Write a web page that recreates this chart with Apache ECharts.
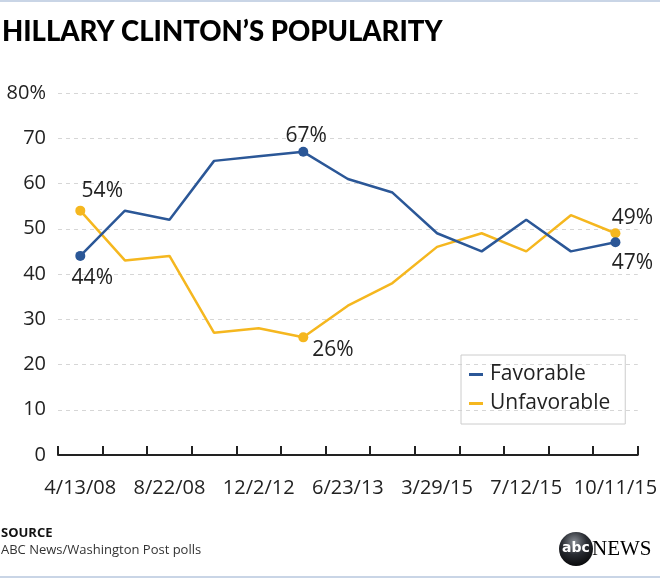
<!DOCTYPE html>
<html><head><meta charset="utf-8">
<script src="https://cdn.jsdelivr.net/npm/echarts@6/dist/echarts.min.js"></script>
<style>html,body{margin:0;padding:0;background:#fff}#c{width:660px;height:580px}</style>
</head><body><div id="c"></div>
<script>
const categories = ['4/13/08','','8/22/08','','12/2/12','','6/23/13','','3/29/15','','7/12/15','','10/11/15'];
const favorable = [44,54,52,65,66,67,61,58,49,45,52,45,47];
const unfavorable = [54,43,44,27,28,26,33,38,46,49,45,53,49];
const yTicks = [0,10,20,30,40,50,60,70,80];

const FONT = 'Open Sans';
const BLUE = '#2b5797';
const GOLD = '#f5b71f';

function withLabels(values, spec) {
  return values.map((v, i) => {
    const s = spec[i];
    if (!s) return { value: v, symbolSize: 0 };
    return { value: v, symbolSize: 10, label: Object.assign({ show: true }, s) };
  });
}

const favSpec = {
  0: { position: 'bottom', offset: [12, 2] },
  5: { position: 'top', offset: [3, 5] },
  12: { position: 'bottom', offset: [17, 0] }
};
const unfSpec = {
  0: { position: 'top', offset: [22, 1] },
  5: { position: 'right', offset: [-1, 13] },
  12: { position: 'top', offset: [17, 5] }
};

const chart = echarts.init(document.getElementById('c'));
chart.setOption({
  animation: false,
  title: {
    text: 'HILLARY CLINTON\u2019S POPULARITY',
    left: -3, top: 13,
    textStyle: { fontFamily: 'Lato', fontSize: 27.5, fontWeight: 900, color: '#000' }
  },
  grid: { left: 58, right: 20, top: 93, bottom: 125 },
  legend: {
    left: 461, top: 355,
    orient: 'vertical',
    padding: [9, 15, 10, 8],
    itemGap: 8,
    borderColor: '#cccccc', borderWidth: 1,
    icon: 'rect', itemWidth: 14, itemHeight: 3,
    textStyle: { fontFamily: FONT, fontSize: 21, color: '#222', padding: [0, 0, 0, 2] },
    data: ['Favorable', 'Unfavorable']
  },
  xAxis: {
    type: 'category',
    data: categories,
    boundaryGap: true,
    axisLine: { lineStyle: { color: '#222', width: 2 } },
    axisTick: { show: true, inside: true, length: 9, interval: 0, lineStyle: { color: '#222', width: 2 } },
    axisLabel: { interval: 1, margin: 23, fontFamily: FONT, fontSize: 20, color: '#222' }
  },
  yAxis: {
    type: 'value', min: yTicks[0], max: yTicks[yTicks.length - 1], interval: 10,
    axisLine: { show: false }, axisTick: { show: false },
    splitLine: { lineStyle: { color: '#d6d6d6', type: [4, 4], width: 1 } },
    axisLabel: {
      margin: 12, fontFamily: FONT, fontSize: 20, color: '#222',
      formatter: v => (v === yTicks[yTicks.length - 1] ? v + '%' : String(v))
    }
  },
  series: [
    {
      name: 'Favorable', type: 'line', data: withLabels(favorable, favSpec),
      color: BLUE, symbol: 'circle', showAllSymbol: true,
      lineStyle: { width: 2.5, color: BLUE }, itemStyle: { color: BLUE },
      label: { show: false, formatter: '{c}%', fontFamily: FONT, fontSize: 21, color: '#222' },
      z: 3
    },
    {
      name: 'Unfavorable', type: 'line', data: withLabels(unfavorable, unfSpec),
      color: GOLD, symbol: 'circle', showAllSymbol: true,
      lineStyle: { width: 2.5, color: GOLD }, itemStyle: { color: GOLD },
      label: { show: false, formatter: '{c}%', fontFamily: FONT, fontSize: 21, color: '#222' },
      z: 2
    }
  ],
  graphic: [
    { type: 'rect', shape: { x: 0, y: 0, width: 660, height: 2 }, style: { fill: '#c9d5e6' } },
    { type: 'rect', shape: { x: 0, y: 576, width: 660, height: 2 }, style: { fill: '#c9d5e6' } },
    { type: 'text', left: 1, top: 527, style: { text: 'SOURCE', fontFamily: FONT, fontSize: 13, fontWeight: 'bold', fill: '#111' } },
    { type: 'text', left: 1, top: 544, style: { text: 'ABC News/Washington Post polls', fontFamily: FONT, fontSize: 13, fill: '#333' } },
    { type: 'circle', shape: { cx: 576, cy: 549, r: 17 },
      style: { fill: new echarts.graphic.RadialGradient(0.45, 0.3, 0.8, [
        { offset: 0, color: '#8a8f96' }, { offset: 0.45, color: '#2a2d33' }, { offset: 1, color: '#000' }]) } },
    { type: 'text', x: 576, y: 548, style: { text: 'abc', fontFamily: 'DejaVu Sans', fontSize: 14, fontWeight: 'bold', fill: '#fff', align: 'center', verticalAlign: 'middle' } },
    { type: 'text', x: 592, y: 549, style: { text: 'NEWS', fontFamily: 'Liberation Serif', fontSize: 21, fill: '#000', verticalAlign: 'middle' } }
  ]
});
</script></body></html>
